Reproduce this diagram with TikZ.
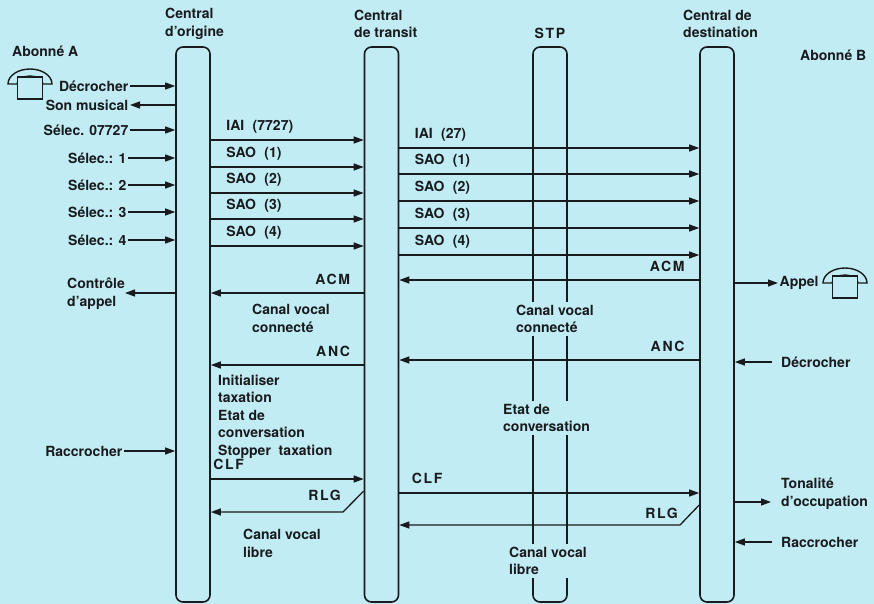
\documentclass[tikz,border=0pt]{standalone}
\usepackage{fontspec}
\setmainfont{TeX Gyre Heros}
\usetikzlibrary{arrows.meta,positioning}
\definecolor{paper}{RGB}{194,236,243}
\definecolor{ink}{RGB}{24,26,30}
\newcommand{\spaced}[1]{{\addfontfeature{LetterSpace=12}#1}}
\newcommand{\gap}{\hspace{0.6em}}
\tikzset{handset/.pic={
  \draw[ink, line width=1.4pt, fill=paper] (-22,0) arc[start angle=180, end angle=360, x radius=22, y radius=15]
    -- (13,0) arc[start angle=0, end angle=-180, x radius=13, y radius=8] -- cycle;
  \draw[ink, line width=1.4pt, fill=paper] (-12.5,-7) rectangle (12.5,15);
}}

\begin{document}
\begin{tikzpicture}[x=1pt, y=-1pt,
  every node/.style={font=\fontsize{14}{17.5}\selectfont\bfseries, text=ink, inner sep=0pt},
  bar/.style={draw=ink, line width=1.6pt, rounded corners=7pt, minimum width=34pt, minimum height=555pt},
  sig/.style={draw=ink, line width=1.3pt, -{Triangle[length=10pt,width=7pt]}},
  lbl/.style={anchor=base west, xshift=15pt, yshift=9.5pt},
  lblr/.style={anchor=base east, xshift=-14pt, yshift=9pt},
  note/.style={align=left, anchor=west},
  gapnote/.style={align=left, anchor=west, fill=paper, inner sep=3pt},
  side/.style={inner sep=1.5pt}]
  \fill[paper] (0,0) rectangle (874,604);
  \useasboundingbox (0,0) rectangle (874,604);

  % the four exchanges
  \node[bar] (orig) at (193,324.5) {};
  \node[bar] (tran) at (381.5,324.5) {};
  \node[bar] (stp) at (550,324.5) {};
  \node[bar] (dest) at (717,324.5) {};

  \node[note] (horig) at (165,24) {Central\\d’origine};
  \node[note] (htran) at (354,24) {Central\\de transit};
  \node (hstp) at (550,33) {\spaced{STP}};
  \node[note] (hdest) at (683,24) {Central de\\destination};

  % subscriber A
  \node[anchor=west] (aboA) at (12,51) {Abonné A};
  \pic at (30,84) {handset};
  \node[side, anchor=east] (decA) at (130,86) {Décrocher};
  \node[side, anchor=east] (musA) at (130,105) {Son musical};
  \node[side, anchor=east] (sel0) at (130,130) {Sélec. 07727};
  \node[side, anchor=east] (sel1) at (128,158) {Sélec.: 1};
  \node[side, anchor=east] (sel2) at (128,185) {Sélec.: 2};
  \node[side, anchor=east] (sel3) at (128,212) {Sélec.: 3};
  \node[side, anchor=east] (sel4) at (128,240) {Sélec.: 4};
  \node[note, anchor=east] (ctrl) at (125,294) {Contrôle\\d’appel};
  \node[side, anchor=east] (racA) at (124,451) {Raccrocher};
  \draw[sig] (decA) -- (orig.west |- decA);
  \draw[sig] (orig.west |- musA) -- (musA);
  \draw[sig] (sel0) -- (orig.west |- sel0);
  \draw[sig] (sel1) -- (orig.west |- sel1);
  \draw[sig] (sel2) -- (orig.west |- sel2);
  \draw[sig] (sel3) -- (orig.west |- sel3);
  \draw[sig] (sel4) -- (orig.west |- sel4);
  \draw[sig] (orig.west |- 0,293) -- (ctrl.east |- 0,293);
  \draw[sig] (racA) -- (orig.west |- racA);

  % origine - transit
  \draw[sig] (orig.east |- 0,140) -- (tran.west |- 0,140) node[lbl, at start] (iaiA) {IAI\gap(7727)};
  \draw[sig] (orig.east |- 0,167) -- (tran.west |- 0,167) node[lbl, at start] (saoA1) {SAO\gap(1)};
  \draw[sig] (orig.east |- 0,193) -- (tran.west |- 0,193) node[lbl, at start] (saoA2) {SAO\gap(2)};
  \draw[sig] (orig.east |- 0,219) -- (tran.west |- 0,219) node[lbl, at start] (saoA3) {SAO\gap(3)};
  \draw[sig] (orig.east |- 0,246) -- (tran.west |- 0,246) node[lbl, at start] (saoA4) {SAO\gap(4)};
  \draw[sig] (tran.west |- 0,293) -- (orig.east |- 0,293) node[lblr, at start, xshift=1pt] (acmA) {\spaced{ACM}};
  \node[note] (cvcA) at (252,318.5) {Canal vocal\\connecté};
  \draw[sig] (tran.west |- 0,365) -- (orig.east |- 0,365) node[lblr, at start, xshift=1pt] (ancA) {\spaced{ANC}};
  \node[note] (initax) at (218,389) {Initialiser\\taxation};
  \node[note] (etatA) at (218,424) {Etat de\\conversation};
  \node[anchor=base west] (stoptax) at (218,455) {Stopper\ \ taxation};
  \draw[sig] (orig.east |- 0,479) -- (tran.west |- 0,479) node[anchor=base west, at start, xshift=2pt, yshift=10pt] (clfA) {\spaced{CLF}};
  \coordinate (rlgAbend) at (343,512);
  \draw[sig] (tran.west |- 0,491) -- (rlgAbend) -- (orig.east |- rlgAbend);
  \node[anchor=base east] (rlgA) at (341,500) {\spaced{RLG}};
  \node[note] (cvlA) at (243,543.5) {Canal vocal\\libre};

  % transit - destination
  \draw[sig] (tran.east |- 0,148) -- (dest.west |- 0,148) node[lbl, at start] (iaiB) {IAI\gap(27)};
  \draw[sig] (tran.east |- 0,174) -- (dest.west |- 0,174) node[lbl, at start] (saoB1) {SAO\gap(1)};
  \draw[sig] (tran.east |- 0,201) -- (dest.west |- 0,201) node[lbl, at start] (saoB2) {SAO\gap(2)};
  \draw[sig] (tran.east |- 0,228) -- (dest.west |- 0,228) node[lbl, at start] (saoB3) {SAO\gap(3)};
  \draw[sig] (tran.east |- 0,255) -- (dest.west |- 0,255) node[lbl, at start] (saoB4) {SAO\gap(4)};
  \draw[sig] (dest.west |- 0,280) -- (tran.east |- 0,280) node[lblr, at start] (acmB) {\spaced{ACM}};
  \draw[sig] (dest.west |- 0,360) -- (tran.east |- 0,360) node[lblr, at start] (ancB) {\spaced{ANC}};
  \draw[sig] (tran.east |- 0,493) -- (dest.west |- 0,493) node[lbl, at start, xshift=-3pt] (clfB) {\spaced{CLF}};
  \coordinate (rlgBbend) at (680,525);
  \draw[sig] (dest.west |- 0,505) -- (rlgBbend) -- (tran.east |- rlgBbend);
  \node[anchor=base east] (rlgB) at (678,518) {\spaced{RLG}};

  % texts on the STP line
  \node[gapnote] (cvcB) at (513,319) {Canal vocal\\connecté};
  \node[gapnote] (etatB) at (500,418) {Etat de\\conversation};
  \node[gapnote] (cvlB) at (506,561) {Canal vocal\\libre};

  % subscriber B
  \node[anchor=west] (aboB) at (800,55) {Abonné B};
  \node[side, anchor=west] (appel) at (778,283) {Appel};
  \pic at (845,283) {handset};
  \node[anchor=west] (decB) at (781,362) {Décrocher};
  \node[note] (tono) at (781,494) {Tonalité\\d’occupation};
  \coordinate (tonoend) at (771,502);
  \node[anchor=west] (racB) at (781,542) {Raccrocher};
  \draw[sig] (dest.east |- appel) -- (appel);
  \draw[sig] ([xshift=-9pt]decB.west) -- (dest.east |- decB);
  \draw[sig] (dest.east |- tonoend) -- (tonoend);
  \draw[sig] ([xshift=-9pt]racB.west) -- (dest.east |- racB);
\end{tikzpicture}
\end{document}
